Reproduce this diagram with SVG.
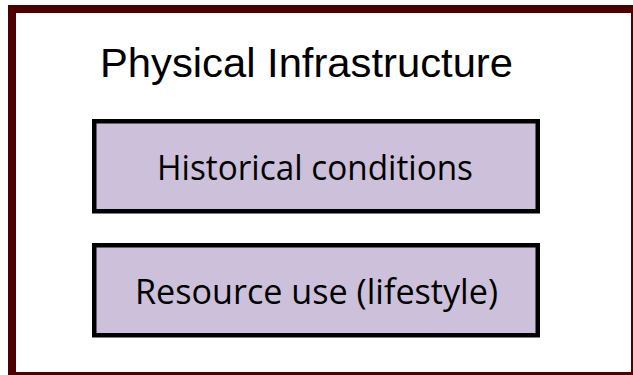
<svg xmlns="http://www.w3.org/2000/svg" width="633" height="375" viewBox="0 0 633 375">
<style>
.box{fill:#ccc0da;stroke:#000;stroke-width:4.5}
.lbl{font-family:"Open Sans","Noto Sans",sans-serif;font-size:35px;fill:#000;text-anchor:middle}
.title{font-family:"Liberation Sans",Arial,sans-serif;font-size:41.5px;fill:#000}
</style>
<rect width="633" height="375" fill="#fff"/>
<g id="frame">
<rect x="8" y="5" width="625" height="370" fill="#4d0000"/>
<rect x="16" y="13" width="615" height="359" fill="#fff"/>
<text class="title" x="100" y="77" textLength="413" lengthAdjust="spacingAndGlyphs">Physical Infrastructure</text>
</g>
<g id="node-historical">
<rect class="box" x="94.25" y="121.25" width="443.5" height="90"/>
<text class="lbl" x="315" y="180" textLength="316" lengthAdjust="spacingAndGlyphs">Historical conditions</text>
</g>
<g id="node-resource">
<rect class="box" x="94.25" y="245.25" width="443.5" height="90"/>
<text class="lbl" x="316.5" y="304" textLength="363" lengthAdjust="spacingAndGlyphs">Resource use (lifestyle)</text>
</g>
<g id="connectors"/>
</svg>
